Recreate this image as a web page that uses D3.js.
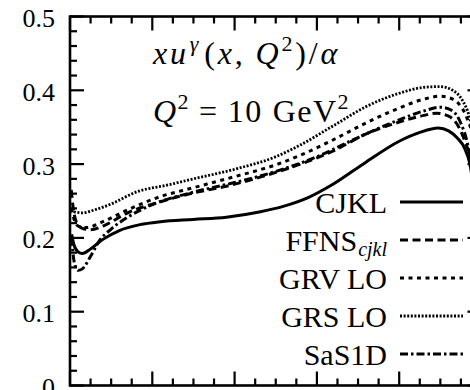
<!DOCTYPE html>
<html>
<head>
<meta charset="utf-8">
<script src="https://cdn.jsdelivr.net/npm/d3@7"></script>
<style>
  html, body { margin: 0; padding: 0; background: #fff; overflow: hidden; }
  svg { display: block; }
  text { font-family: "Liberation Serif", "DejaVu Serif", serif; fill: #000; }
</style>
</head>
<body>
<svg id="chart" width="470" height="390"></svg>
<script>
// Photon structure function xu^γ(x,Q²)/α at Q² = 10 GeV², five parametrisations
const seriesNames = ["CJKL", "FFNS", "GRV LO", "GRS LO", "SaS1D"];

const cjkl = [[0.004,0.205],[0.01,0.19],[0.02,0.181],[0.03,0.179],[0.05,0.185],[0.08,0.198],[0.12,0.21],[0.17,0.218],[0.22,0.222],[0.3,0.225],[0.38,0.228],[0.46,0.235],[0.52,0.243],[0.58,0.255],[0.64,0.273],[0.72,0.303],[0.8,0.331],[0.85,0.343],[0.895,0.349],[0.92,0.345],[0.94,0.336],[0.96,0.32],[0.975,0.29],[0.99,0.2],[1.0,0.1]];
const ffns = [[0.003,0.265],[0.008,0.24],[0.015,0.222],[0.03,0.213],[0.05,0.211],[0.08,0.216],[0.14,0.234],[0.22,0.249],[0.3,0.261],[0.38,0.27],[0.46,0.282],[0.56,0.3],[0.64,0.318],[0.72,0.341],[0.8,0.357],[0.86,0.366],[0.89,0.369],[0.92,0.365],[0.945,0.35],[0.96,0.33],[0.975,0.3],[0.99,0.2],[1.0,0.1]];
const grvLO = [[0.004,0.24],[0.01,0.225],[0.02,0.216],[0.04,0.214],[0.08,0.222],[0.14,0.238],[0.22,0.256],[0.3,0.268],[0.4,0.283],[0.5,0.299],[0.56,0.312],[0.64,0.333],[0.72,0.356],[0.8,0.376],[0.86,0.388],[0.9,0.392],[0.93,0.388],[0.95,0.378],[0.965,0.362],[0.98,0.33],[0.995,0.22]];
const grsLO = [[0.005,0.24],[0.012,0.235],[0.03,0.234],[0.06,0.238],[0.1,0.246],[0.16,0.262],[0.24,0.272],[0.3,0.28],[0.4,0.293],[0.5,0.31],[0.56,0.326],[0.64,0.352],[0.72,0.378],[0.8,0.396],[0.86,0.404],[0.9,0.405],[0.93,0.4],[0.955,0.385],[0.97,0.365],[0.985,0.32],[1.0,0.2]];
const sas1d = [[0.004,0.2],[0.01,0.168],[0.02,0.156],[0.03,0.158],[0.05,0.175],[0.07,0.195],[0.1,0.212],[0.14,0.228],[0.2,0.245],[0.3,0.262],[0.4,0.275],[0.5,0.29],[0.6,0.31],[0.7,0.336],[0.8,0.36],[0.86,0.372],[0.9,0.377],[0.93,0.372],[0.95,0.355],[0.965,0.33],[0.98,0.28],[0.995,0.17]];

const yTickValues = [0, 0.1, 0.2, 0.3, 0.4, 0.5];
const yTickLabels = ["0", "0.1", "0.2", "0.3", "0.4", "0.5"];

const svg = d3.select("#chart");
const plotLeft = 70, plotRight = 481.5, plotTop = 16.5, plotBottom = 385.5;

const x = d3.scaleLinear().domain([0, 1]).range([plotLeft, plotRight]);
const y = d3.scaleLinear().domain([0, 0.5]).range([plotBottom, plotTop]);

svg.append("defs").append("clipPath").attr("id", "plotClip")
  .append("rect").attr("x", plotLeft).attr("y", plotTop)
  .attr("width", plotRight - plotLeft).attr("height", plotBottom - plotTop);

// curves
const line = d3.line().x(d => x(d[0])).y(d => y(d[1])).curve(d3.curveMonotoneX);
const styles = [
  { data: cjkl,  dash: null,        w: 3 },
  { data: ffns,  dash: "8,4.5",     w: 3 },
  { data: grvLO, dash: "4,4.5",     w: 3 },
  { data: grsLO, dash: "2,1.6",     w: 2.8 },
  { data: sas1d, dash: "8,3,2.5,3", w: 3 }
];
const g = svg.append("g").attr("clip-path", "url(#plotClip)");
styles.forEach(s => {
  g.append("path").datum(s.data)
    .attr("d", line)
    .attr("fill", "none").attr("stroke", "#000")
    .attr("stroke-width", s.w)
    .attr("stroke-dasharray", s.dash);
});

// frame and ticks
const axisW = 2.6, tickW = 2.2, majLen = 14, minLen = 7;
const frame = svg.append("g");
frame.append("rect").attr("x", plotLeft).attr("y", plotTop)
  .attr("width", plotRight - plotLeft).attr("height", plotBottom - plotTop)
  .attr("fill", "none").attr("stroke", "#000").attr("stroke-width", axisW);

const xMinor = d3.range(0, 1.0001, 0.05);
xMinor.forEach(v => {
  const major = Math.abs(Math.round(v / 0.2) * 0.2 - v) < 1e-6;
  const len = major ? majLen : minLen;
  frame.append("line").attr("x1", x(v)).attr("x2", x(v)).attr("y1", plotTop).attr("y2", plotTop + len)
    .attr("stroke", "#000").attr("stroke-width", tickW);
  frame.append("line").attr("x1", x(v)).attr("x2", x(v)).attr("y1", plotBottom).attr("y2", plotBottom - len)
    .attr("stroke", "#000").attr("stroke-width", tickW);
});
const yMinor = d3.range(0, 0.5001, 0.02);
yMinor.forEach(v => {
  const major = Math.abs(Math.round(v / 0.1) * 0.1 - v) < 1e-6;
  const len = major ? majLen : minLen;
  frame.append("line").attr("x1", plotLeft).attr("x2", plotLeft + len).attr("y1", y(v)).attr("y2", y(v))
    .attr("stroke", "#000").attr("stroke-width", tickW);
  frame.append("line").attr("x1", plotRight).attr("x2", plotRight - len).attr("y1", y(v)).attr("y2", y(v))
    .attr("stroke", "#000").attr("stroke-width", tickW);
});

// y tick labels
svg.append("g").selectAll("text").data(yTickValues).join("text")
  .attr("x", 55).attr("y", d => y(d) + 10.5)
  .attr("text-anchor", "end").attr("font-size", 26)
  .text((d, i) => yTickLabels[i]);

// title lines
const t1 = svg.append("text").attr("x", 153).attr("y", 64).attr("font-size", 32)
  .attr("letter-spacing", 2.8);
t1.append("tspan").attr("font-style", "italic").text("xu");
t1.append("tspan").attr("font-style", "italic").attr("font-size", 22).attr("dy", -13).attr("dx", 1).text("γ");
t1.append("tspan").attr("dy", 13).attr("dx", 3).text("(");
t1.append("tspan").attr("font-style", "italic").text("x");
t1.append("tspan").text(",");
t1.append("tspan").attr("font-style", "italic").attr("dx", 10).text("Q");
t1.append("tspan").attr("font-size", 22).attr("dy", -13).text("2");
t1.append("tspan").attr("dy", 13).text(")/");
t1.append("tspan").attr("font-style", "italic").text("α");

const t2 = svg.append("text").attr("x", 153).attr("y", 122).attr("font-size", 32)
  .attr("letter-spacing", 1.5);
t2.append("tspan").attr("font-style", "italic").text("Q");
t2.append("tspan").attr("font-size", 22).attr("dy", -13).text("2");
t2.append("tspan").attr("dy", 13).attr("dx", 9).text("=");
t2.append("tspan").attr("dx", 9).text("10");
t2.append("tspan").attr("dx", 10).text("GeV");
t2.append("tspan").attr("font-size", 22).attr("dy", -13).text("2");

// legend
const legendY = [202, 240, 278, 316, 354];
const lg = svg.append("g");
styles.forEach((s, i) => {
  const ly = legendY[i];
  lg.append("line").attr("x1", 400).attr("x2", 463).attr("y1", ly).attr("y2", ly)
    .attr("stroke", "#000").attr("stroke-width", 3.2).attr("stroke-dasharray", s.dash);
  const t = lg.append("text").attr("x", 387).attr("y", ly + 11).attr("text-anchor", "end").attr("font-size", 30);
  if (seriesNames[i] === "FFNS") {
    t.append("tspan").text("FFNS");
    t.append("tspan").attr("font-style", "italic").attr("font-size", 20).attr("dy", 5).attr("dx", 1).text("cjkl");
  } else {
    t.text(seriesNames[i]);
  }
});
</script>
</body>
</html>
